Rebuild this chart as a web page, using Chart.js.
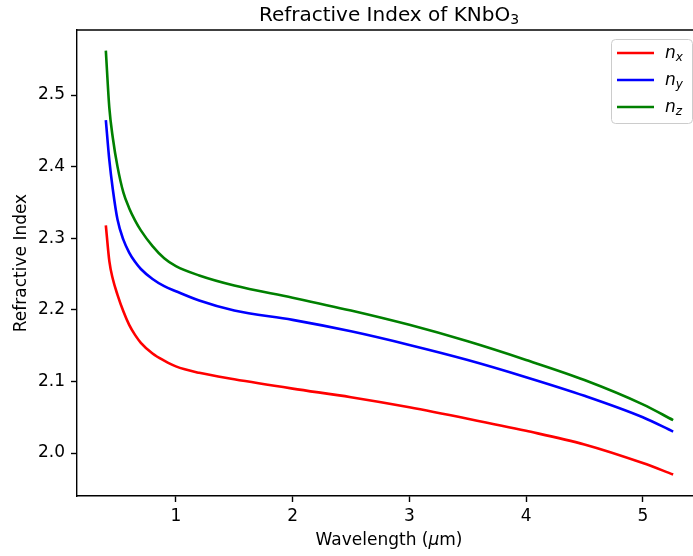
<!DOCTYPE html>
<html>
<head>
<meta charset="utf-8">
<title>Refractive Index of KNbO3</title>
<script src="https://cdn.jsdelivr.net/npm/chart.js@4/dist/chart.umd.min.js"></script>
<style>
    html, body { margin: 0; padding: 0; background: #fff; }
    #wrap { width: 693px; height: 556px; position: relative; }
</style>
</head>
<body>
<div id="wrap"><canvas id="indexChart" width="693" height="556"></canvas></div>
<script>
// values
const wavelengths = [0.4, 0.43, 0.46, 0.5, 0.55, 0.6, 0.65, 0.7, 0.8, 0.9, 1.0, 1.2, 1.5, 2.0, 2.5, 3.0, 3.5, 4.0, 4.5, 5.0, 5.26];
const nx = [2.318, 2.268, 2.243, 2.221, 2.198, 2.179, 2.165, 2.154, 2.139, 2.129, 2.121, 2.112, 2.103, 2.090, 2.078, 2.064, 2.048, 2.031, 2.012, 1.986, 1.970];
const ny = [2.465, 2.409, 2.368, 2.326, 2.298, 2.280, 2.267, 2.257, 2.243, 2.233, 2.226, 2.213, 2.199, 2.186, 2.170, 2.151, 2.130, 2.106, 2.080, 2.050, 2.030];
const nz = [2.562, 2.482, 2.440, 2.400, 2.364, 2.342, 2.325, 2.311, 2.289, 2.272, 2.261, 2.248, 2.234, 2.217, 2.199, 2.179, 2.156, 2.130, 2.102, 2.068, 2.046];
const seriesNames = ['x', 'y', 'z'];
const seriesColors = ['#ff0000', '#0000ff', '#008000'];
const xTicks = [1, 2, 3, 4, 5];
const yTicks = [2.0, 2.1, 2.2, 2.3, 2.4, 2.5];

const FONT = 'DejaVu Sans';

document.addEventListener('DOMContentLoaded', function () {
    const canvas = document.getElementById('indexChart');

    const toPoints = values => values.map((v, i) => ({ x: wavelengths[i], y: v }));
    const datasets = [nx, ny, nz].map((values, i) => ({
        label: 'n' + seriesNames[i],
        data: toPoints(values),
        borderColor: seriesColors[i],
        backgroundColor: seriesColors[i],
        borderWidth: 2.6,
        pointRadius: 0,
        fill: false,
        cubicInterpolationMode: 'monotone'
    }));

    // title, axis labels, top spine and the legend box drawn by hand
    const decorations = {
        id: 'decorations',
        afterDraw(chart) {
            const ctx = chart.ctx;
            const area = chart.chartArea;
            const axesMid = (area.left + 701) / 2;

            ctx.save();
            // top spine
            ctx.strokeStyle = '#000';
            ctx.lineWidth = 1.4;
            ctx.beginPath();
            ctx.moveTo(area.left, area.top);
            ctx.lineTo(area.right, area.top);
            ctx.stroke();

            ctx.fillStyle = '#000';
            ctx.textBaseline = 'alphabetic';

            // title with subscript 3
            const main = 'Refractive Index of KNbO';
            ctx.font = '20px "' + FONT + '"';
            const mainW = ctx.measureText(main).width;
            ctx.font = '14px "' + FONT + '"';
            const subW = ctx.measureText('3').width;
            const tx = axesMid - (mainW + subW) / 2;
            ctx.font = '20px "' + FONT + '"';
            ctx.textAlign = 'left';
            ctx.fillText(main, tx, 21);
            ctx.font = '14px "' + FONT + '"';
            ctx.fillText('3', tx + mainW, 24);

            // x axis label with italic mu
            const parts = [['Wavelength (', 'normal'], ['\u03bc', 'italic'], ['m)', 'normal']];
            let total = 0;
            parts.forEach(p => {
                ctx.font = p[1] + ' 17px "' + FONT + '"';
                total += ctx.measureText(p[0]).width;
            });
            let lx = axesMid - total / 2;
            parts.forEach(p => {
                ctx.font = p[1] + ' 17px "' + FONT + '"';
                ctx.fillText(p[0], lx, 545);
                lx += ctx.measureText(p[0]).width;
            });

            // y axis label
            ctx.save();
            ctx.translate(26, (area.top + area.bottom) / 2);
            ctx.rotate(-Math.PI / 2);
            ctx.font = '17px "' + FONT + '"';
            ctx.textAlign = 'center';
            ctx.fillText('Refractive Index', 0, 0);
            ctx.restore();

            // legend
            const bx = 611, by = 39, bw = 81, bh = 84, r = 4;
            ctx.fillStyle = 'rgba(255,255,255,0.8)';
            ctx.strokeStyle = '#cccccc';
            ctx.lineWidth = 1;
            ctx.beginPath();
            ctx.roundRect(bx + 0.5, by + 0.5, bw, bh, r);
            ctx.fill();
            ctx.stroke();

            const rows = [53, 80, 107];
            rows.forEach((yy, i) => {
                ctx.strokeStyle = seriesColors[i];
                ctx.lineWidth = 2.6;
                ctx.beginPath();
                ctx.moveTo(617, yy);
                ctx.lineTo(654, yy);
                ctx.stroke();
                ctx.fillStyle = '#000';
                ctx.textAlign = 'left';
                ctx.font = 'italic 17px "' + FONT + '"';
                ctx.fillText('n', 665, yy + 5);
                const nw = ctx.measureText('n').width;
                ctx.font = 'italic 12px "' + FONT + '"';
                ctx.fillText(seriesNames[i], 665 + nw, yy + 8);
            });
            ctx.restore();
        }
    };

    new Chart(canvas, {
        type: 'line',
        data: { datasets: datasets },
        options: {
            responsive: false,
            animation: false,
            layout: { padding: { top: 30, right: 0, left: 0, bottom: 0 } },
            plugins: {
                legend: { display: false },
                title: { display: false },
                tooltip: { enabled: false }
            },
            scales: {
                x: {
                    type: 'linear',
                    min: 0.153,
                    max: 5.43,
                    afterFit: scale => { scale.height = 60; },
                    afterBuildTicks: scale => { scale.ticks = xTicks.map(v => ({ value: v })); },
                    ticks: {
                        includeBounds: false,
                        color: '#000',
                        padding: 4,
                        maxRotation: 0,
                        font: { family: FONT, size: 17 },
                        callback: v => String(v)
                    },
                    grid: {
                        drawOnChartArea: false,
                        drawTicks: true,
                        tickLength: 6,
                        tickColor: '#000',
                        tickWidth: 1.4
                    },
                    border: { display: true, color: '#000', width: 1.4 }
                },
                y: {
                    type: 'linear',
                    min: 1.94,
                    max: 2.5908,
                    afterFit: scale => { scale.width = 77; },
                    afterBuildTicks: scale => { scale.ticks = yTicks.map(v => ({ value: v })); },
                    ticks: {
                        includeBounds: false,
                        color: '#000',
                        padding: 6,
                        font: { family: FONT, size: 17 },
                        callback: v => Number(v).toFixed(1)
                    },
                    grid: {
                        drawOnChartArea: false,
                        drawTicks: true,
                        tickLength: 6,
                        tickColor: '#000',
                        tickWidth: 1.4
                    },
                    border: { display: true, color: '#000', width: 1.4 }
                }
            }
        },
        plugins: [decorations]
    });
});
</script>
</body>
</html>
